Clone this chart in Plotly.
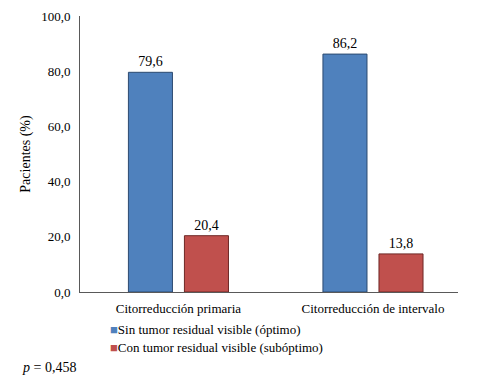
import plotly.graph_objects as go

categorias = ["Citorreducción primaria", "Citorreducción de intervalo"]
optimo = [79.6, 86.2]
suboptimo = [20.4, 13.8]
nombres = ["Sin tumor residual visible (óptimo)", "Con tumor residual visible (subóptimo)"]
colores = ["#4f81bd", "#c0504d"]
y_ticks = [0, 20, 40, 60, 80, 100]

serif = "Liberation Serif"

fig = go.Figure()
fig.add_trace(go.Bar(
    x=categorias, y=optimo, name=nombres[0],
    marker=dict(color=colores[0], line=dict(color="#2c4a70", width=1)),
    texttemplate="%{y:.1f}", textposition="outside",
    textfont=dict(family=serif, size=14, color="black"),
    cliponaxis=False,
))
fig.add_trace(go.Bar(
    x=categorias, y=suboptimo, name=nombres[1],
    marker=dict(color=colores[1], line=dict(color="#6e2826", width=1)),
    texttemplate="%{y:.1f}", textposition="outside",
    textfont=dict(family=serif, size=14, color="black"),
    cliponaxis=False,
))

# page body has an 8px margin, so the figure is 8px smaller and shifted
OFF = 8
W, H = 481 - OFF, 386 - OFF
L, R, T, B = 80 - OFF, 23, 16 - OFF, 94
pw, ph = W - L - R, H - T - B


def px(x, y):
    return (x - OFF - L) / pw, (H - B - (y - OFF)) / ph


# legend drawn as text lines with coloured squares
for i, (nombre, color) in enumerate(zip(nombres, colores)):
    ax, ay = px(108, 329 + 18 * i)
    fig.add_annotation(
        text=f"<span style='color:{color}'>■</span>{nombre}", x=ax, y=ay,
        xref="paper", yref="paper", showarrow=False, xanchor="left", yanchor="middle",
        font=dict(family=serif, size=13, color="black"),
    )

ax, ay = px(20, 368)
fig.add_annotation(
    text="<i>p</i> = 0,458", x=ax, y=ay, xref="paper", yref="paper",
    showarrow=False, xanchor="left", yanchor="middle",
    font=dict(family=serif, size=14, color="black"),
)

fig.update_layout(
    width=W, height=H,
    margin=dict(l=L, r=R, t=T, b=B, autoexpand=False),
    paper_bgcolor="white", plot_bgcolor="white",
    separators=",.",
    barmode="group", bargap=0.424, bargroupgap=0.214,
    font=dict(family=serif, size=13, color="black"),
    showlegend=False,
    xaxis=dict(
        range=[-0.506, 1.437], showline=True, linecolor="#595959", linewidth=1,
        ticks="", showgrid=False, ticklabelstandoff=4,
        tickfont=dict(family=serif, size=13, color="black"),
    ),
    yaxis=dict(
        range=[0, 100], tickvals=y_ticks, tickformat=".1f",
        showline=True, linecolor="#595959", linewidth=1,
        ticks="", showgrid=False, zeroline=False, ticklabelstandoff=6,
        tickfont=dict(family=serif, size=13, color="black"),
        title=dict(text="Pacientes (%)", font=dict(family=serif, size=14, color="black"), standoff=7),
    ),
)

fig.write_html("out.html")
